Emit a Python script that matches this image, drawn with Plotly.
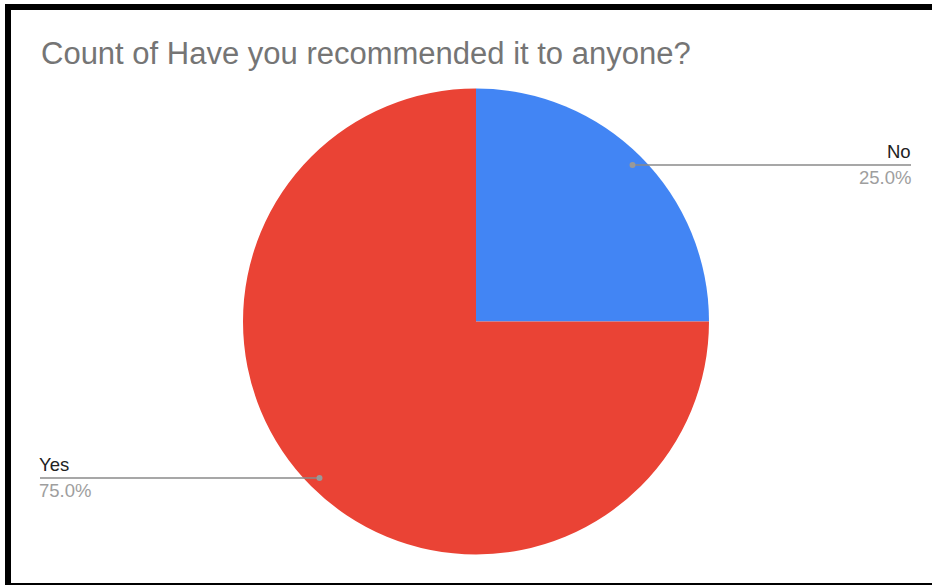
import math
import plotly.graph_objects as go

# Survey responses
categories = ["No", "Yes"]
counts = [1, 3]
colors = ["#4285F4", "#EA4335"]
title_text = "Count of Have you recommended it to anyone?"

W, H = 932, 585
cx, cy, R = 476, 321.5, 233  # pie centre and radius in pixels
FONT = "Liberation Sans, Arial, sans-serif"


def px(x):
    return x / W


def py(y):
    return 1 - y / H


fig = go.Figure()
fig.add_trace(go.Pie(
    labels=categories,
    values=counts,
    marker=dict(colors=colors, line=dict(width=0)),
    sort=False,
    direction="clockwise",
    rotation=0,
    textinfo="none",
    hoverinfo="label+percent",
    showlegend=False,
    domain=dict(x=[px(cx - R), px(cx + R)], y=[py(cy + R), py(cy - R)]),
))

shapes = []
annotations = []
total = sum(counts)
cum = 0
for label, val in zip(categories, counts):
    mid = (cum + val / 2) / total * 2 * math.pi
    cum += val
    # leader dot sits near the rim at the slice's middle angle
    dx = math.sin(mid) * R * 0.95
    dy = -math.cos(mid) * R * 0.95
    dot_x, dot_y = cx + dx, cy + dy
    right = dx >= 0
    end_x = 911 if right else 40
    pct = f"{val / total * 100:.1f}%"
    shapes.append(dict(type="line", xref="paper", yref="paper",
                       x0=px(dot_x), x1=px(end_x), y0=py(dot_y), y1=py(dot_y),
                       line=dict(color="#8a8a8a", width=1.5)))
    shapes.append(dict(type="circle", xref="paper", yref="paper",
                       x0=px(dot_x - 3), x1=px(dot_x + 3),
                       y0=py(dot_y + 3), y1=py(dot_y - 3),
                       fillcolor="#999999", line=dict(width=0)))
    anchor = "right" if right else "left"
    annotations.append(dict(text=label, xref="paper", yref="paper",
                            x=px(end_x + (2 if right else -3)), y=py(dot_y - 1),
                            xanchor=anchor, yanchor="bottom",
                            showarrow=False,
                            font=dict(family=FONT, size=18.5, color="#222222")))
    annotations.append(dict(text=pct, xref="paper", yref="paper",
                            x=px(end_x + (2 if right else -3)), y=py(dot_y + 0),
                            xanchor=anchor, yanchor="top",
                            showarrow=False,
                            font=dict(family=FONT, size=18.5, color="#9e9e9e")))

annotations.append(dict(text=title_text, xref="paper", yref="paper",
                        x=px(39), y=py(53), xanchor="left", yanchor="middle",
                        showarrow=False,
                        font=dict(family=FONT, size=31, color="#757575")))

# frame edges
shapes += [
    dict(type="rect", xref="paper", yref="paper", x0=px(5), x1=px(W), y0=py(10), y1=py(4),
         fillcolor="black", line=dict(width=0)),
    dict(type="rect", xref="paper", yref="paper", x0=px(5), x1=px(11), y0=py(H), y1=py(4),
         fillcolor="black", line=dict(width=0)),
    dict(type="rect", xref="paper", yref="paper", x0=px(5), x1=px(W), y0=py(H), y1=py(583),
         fillcolor="black", line=dict(width=0)),
]

fig.update_layout(
    width=W, height=H,
    margin=dict(l=0, r=0, t=0, b=0),
    paper_bgcolor="white",
    plot_bgcolor="white",
    shapes=shapes,
    annotations=annotations,
)

fig.write_html("out.html")
